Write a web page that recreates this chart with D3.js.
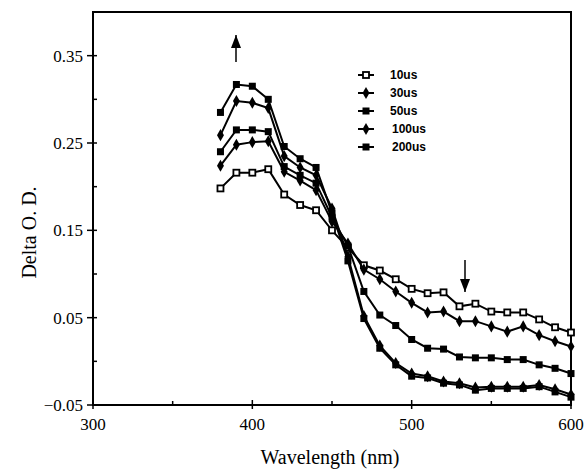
<!DOCTYPE html>
<html>
<head>
<meta charset="utf-8">
<script src="https://d3js.org/d3.v7.min.js"></script>
<style>
  body { margin: 0; background: #fff; }
  svg { display: block; }
</style>
</head>
<body>
<svg width="585" height="469"></svg>
<script>
// wavelengths (nm) of the measured points
const wavelengths = [380,390,400,410,420,430,440,450,460,470,480,490,500,510,520,530,540,550,560,570,580,590,600];

// Delta O.D. for each delay
const od10us  = [0.198,0.216,0.216,0.220,0.191,0.179,0.173,0.150,0.130,0.110,0.104,0.094,0.083,0.078,0.079,0.063,0.066,0.057,0.056,0.056,0.048,0.039,0.033];
const od30us  = [0.224,0.248,0.251,0.252,0.217,0.207,0.196,0.160,0.135,0.105,0.094,0.080,0.067,0.056,0.057,0.046,0.046,0.040,0.034,0.040,0.030,0.023,0.017];
const od50us  = [0.240,0.265,0.265,0.263,0.223,0.213,0.204,0.165,0.132,0.080,0.053,0.041,0.025,0.015,0.014,0.005,0.004,0.004,0.002,0.002,-0.004,-0.008,-0.014];
const od100us = [0.259,0.298,0.296,0.290,0.235,0.222,0.213,0.175,0.120,0.052,0.018,-0.002,-0.014,-0.017,-0.023,-0.025,-0.030,-0.029,-0.029,-0.029,-0.027,-0.032,-0.038];
const od200us = [0.285,0.317,0.315,0.300,0.246,0.232,0.222,0.170,0.115,0.049,0.015,-0.004,-0.017,-0.019,-0.025,-0.027,-0.033,-0.031,-0.031,-0.031,-0.029,-0.035,-0.041];

const seriesNames = ["10us","30us","50us","100us","200us"];
const seriesValues = [od10us, od30us, od50us, od100us, od200us];
const seriesMarkers = ["open", "diamond", "square", "diamond", "square"];

const xTicks = [300,400,500,600];
const xMinor = [350,450,550];
const yTicks = [-0.05,0.05,0.15,0.25,0.35];
const yMinor = [0.00,0.10,0.20,0.30];

const svg = d3.select("svg");
const plotL = 93, plotR = 571, plotT = 12, plotB = 405;

const x = d3.scaleLinear().domain([300,600]).range([plotL,plotR]);
const y = d3.scaleLinear().domain([-0.05,0.40]).range([plotB,plotT]);

// frame
svg.append("rect")
  .attr("x", plotL).attr("y", plotT)
  .attr("width", plotR-plotL).attr("height", plotB-plotT)
  .attr("fill", "none").attr("stroke", "#000").attr("stroke-width", 2);

// ticks
const ax = svg.append("g").attr("stroke", "#000").attr("stroke-width", 1.5);
xTicks.forEach(t => ax.append("line").attr("x1", x(t)).attr("x2", x(t)).attr("y1", plotB-5).attr("y2", plotB+4));
xMinor.forEach(t => ax.append("line").attr("x1", x(t)).attr("x2", x(t)).attr("y1", plotB-4).attr("y2", plotB));
yTicks.forEach(t => ax.append("line").attr("x1", plotL-6).attr("x2", plotL+4).attr("y1", y(t)).attr("y2", y(t)));
yMinor.forEach(t => ax.append("line").attr("x1", plotL).attr("x2", plotL+4).attr("y1", y(t)).attr("y2", y(t)));

svg.append("g").selectAll("text").data(xTicks).join("text")
  .attr("x", d => x(d)).attr("y", plotB+25)
  .attr("text-anchor", "middle")
  .style("font", "17px 'Liberation Serif', serif")
  .text(d => d);

svg.append("g").selectAll("text").data(yTicks).join("text")
  .attr("x", plotL-10).attr("y", d => y(d)+6)
  .attr("text-anchor", "end")
  .style("font", "17px 'Liberation Serif', serif")
  .text(d => d3.format(".2f")(d));

svg.append("text")
  .attr("x", (plotL+plotR)/2 - 2).attr("y", 464)
  .attr("text-anchor", "middle")
  .style("font", "20px 'Liberation Serif', serif")
  .text("Wavelength (nm)");

svg.append("text")
  .attr("transform", `translate(36,${(plotT+plotB)/2 + 24}) rotate(-90)`)
  .attr("text-anchor", "middle")
  .style("font", "20px 'Liberation Serif', serif")
  .text("Delta O. D.");

function drawMarker(g, kind, cx, cy) {
  if (kind === "diamond") {
    g.append("path")
      .attr("d", d3.symbol().type(d3.symbolDiamond).size(42)())
      .attr("transform", `translate(${cx},${cy})`)
      .attr("fill", "#000");
  } else if (kind === "square") {
    g.append("rect").attr("x", cx-3.5).attr("y", cy-3.5).attr("width", 7).attr("height", 7).attr("fill", "#000");
  } else {
    g.append("rect").attr("x", cx-3).attr("y", cy-3).attr("width", 6).attr("height", 6)
      .attr("fill", "#fff").attr("stroke", "#000").attr("stroke-width", 1.8);
  }
}

const line = d3.line().x(d => x(d[0])).y(d => y(d[1]));

seriesValues.forEach((vals, i) => {
  const pts = wavelengths.map((w, j) => [w, vals[j]]);
  const g = svg.append("g");
  g.append("path").datum(pts)
    .attr("d", line)
    .attr("fill", "none").attr("stroke", "#000").attr("stroke-width", 2);
  pts.forEach(p => drawMarker(g, seriesMarkers[i], x(p[0]), y(p[1])));
});

// legend
const legendY = [75, 93, 111, 129, 147];
const lg = svg.append("g");
seriesNames.forEach((name, i) => {
  lg.append("line").attr("x1", 358).attr("x2", 374).attr("y1", legendY[i]).attr("y2", legendY[i])
    .attr("stroke", "#000").attr("stroke-width", 2);
  drawMarker(lg, seriesMarkers[i], 366, legendY[i]);
  lg.append("text")
    .attr("x", name.length > 4 ? 392 : 390).attr("y", legendY[i] + 4)
    .style("font", "bold 12px 'Liberation Sans', Arial, sans-serif")
    .text(name);
});

// arrows
function arrow(xp, y1, y2) {
  svg.append("line").attr("x1", xp).attr("x2", xp).attr("y1", y1).attr("y2", y2)
    .attr("stroke", "#000").attr("stroke-width", 1.5);
  const dir = y2 < y1 ? -1 : 1;
  svg.append("path")
    .attr("d", `M${xp},${y2} L${xp-5},${y2 - dir*13} L${xp+5},${y2 - dir*13} Z`)
    .attr("fill", "#000");
}
arrow(236, 62, 35);
arrow(465, 260, 292);
</script>
</body>
</html>
